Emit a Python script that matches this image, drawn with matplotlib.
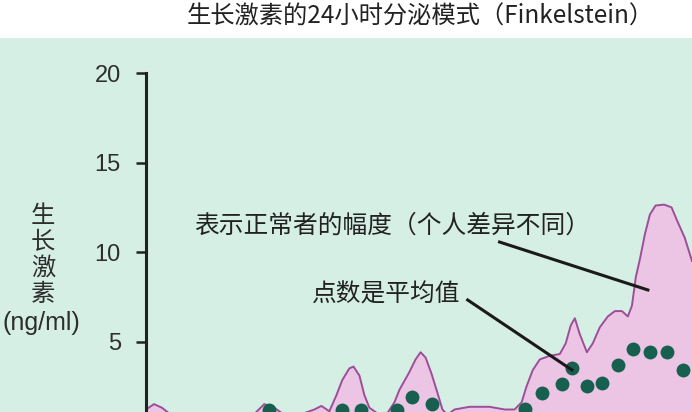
import matplotlib.pyplot as plt
from matplotlib.patches import Rectangle

# normal range envelope (hours from start of the plotted window, ng/ml)
env_hours = [0.00, 0.35, 0.70, 1.10, 2.33, 4.09, 4.80, 5.20, 5.64, 6.08,
             6.74, 7.40, 7.71, 8.06, 8.37, 8.63, 8.94, 9.12, 9.38, 9.60,
             9.82, 10.26, 10.61, 10.92, 11.14, 11.58, 11.85, 12.07, 12.29, 12.55,
             12.77, 13.03, 13.25, 13.56, 14.22, 15.10, 15.77, 16.20, 16.51, 16.73,
             17.00, 17.31, 17.75, 18.19, 18.45, 18.67, 18.85, 19.07, 19.38, 19.64,
             19.95, 20.30, 20.61, 20.92, 21.18, 21.36, 21.53, 21.71, 21.93, 22.15,
             22.40, 22.77, 23.10, 23.33, 23.68, 24.00]
env_ng = [1.2, 1.5, 1.3, 0.9, 0.6, 0.7, 1.0, 1.5, 1.3, 0.9,
          0.9, 1.2, 1.4, 1.1, 2.0, 2.85, 3.5, 3.6, 3.1, 2.0,
          1.3, 0.9, 1.0, 1.6, 2.3, 3.3, 4.0, 4.4, 4.1, 3.2,
          2.3, 1.2, 0.9, 1.2, 1.35, 1.35, 1.2, 1.2, 1.6, 2.5,
          3.4, 4.0, 4.2, 4.3, 4.9, 5.9, 6.3, 5.4, 4.4, 4.9,
          5.8, 6.4, 6.7, 6.7, 6.4, 7.0, 8.6, 9.6, 11.0, 12.1,
          12.6, 12.65, 12.5, 11.8, 10.8, 9.5]

# mean values (dots)
mean_hours = [5.42, 8.63, 9.47, 11.05, 11.71, 12.55, 16.65, 17.39, 18.27,
              18.72, 19.38, 20.04, 20.74, 21.40, 22.15, 22.90, 23.60]
mean_ng = [1.17, 1.17, 1.17, 1.17, 1.9, 1.5, 1.2, 2.1, 2.6,
           3.5, 2.5, 2.7, 3.7, 4.6, 4.4, 4.4, 3.4]

yticks = [5, 10, 15, 20]

title = '生长激素的24小时分泌模式（Finkelstein）'
ylabel = '生\n长\n激\n素'
yunit = '(ng/ml)'
note_range = '表示正常者的幅度（个人差异不同）'
note_mean = '点数是平均值'

cjk = ['Noto Sans CJK SC', 'DejaVu Sans']
mint = '#d5efe5'
pink = '#ecc5e4'
purple = '#9c4f98'
teal = '#17604f'
ink = '#222222'

W, H = 692, 412
fig = plt.figure(figsize=(W / 100, H / 100), dpi=100, facecolor=mint)
fig.patches.append(Rectangle((0, 1 - 38 / H), 1, 38 / H, transform=fig.transFigure,
                             facecolor='white', edgecolor='none', zorder=0))

ax = fig.add_axes([146 / W, 0, 1 - 146 / W, (H - 40) / H])
ax.set_facecolor('none')
ax.set_xlim(0, 24)
ax.set_ylim(1.06, 21.85)

ax.fill_between(env_hours, 0, env_ng, facecolor=pink, edgecolor='none', zorder=1)
ax.plot(env_hours, env_ng, color=purple, lw=1.4, zorder=2)
ax.plot(mean_hours, mean_ng, 'o', color=teal, ms=10, mec='none', zorder=3)

for s in ['top', 'right', 'bottom']:
    ax.spines[s].set_visible(False)
ax.spines['left'].set_bounds(1.06, 20)
ax.spines['left'].set_linewidth(2.2)
ax.spines['left'].set_color(ink)
ax.set_xticks([])
ax.set_yticks(yticks)
ax.set_yticklabels([str(t) for t in yticks], family='Liberation Sans',
                   fontsize=17, color='#2e2e2e')
ax.tick_params(axis='y', length=7, width=1.8, color=ink, pad=11)

# annotations
ax.text(10.80, 11.5, note_range, family=cjk, fontsize=17.8, color=ink,
        ha='center', va='center')
ax.text(10.55, 7.6, note_mean, family=cjk, fontsize=17.8, color=ink,
        ha='center', va='center')
ax.plot([15.54, 22.06], [10.56, 7.88], color='#1a1a1a', lw=2.2, zorder=4)
ax.plot([14.14, 18.72], [7.32, 3.41], color='#1a1a1a', lw=2.2, zorder=4)

fig.text(420 / W, 1 - 17 / H, title, family=cjk, fontsize=17.5, color=ink,
         ha='center', va='center')
fig.text(43 / W, 1 - 255 / H, ylabel, family=cjk, fontsize=17.5, color='#2e2e2e',
         ha='center', va='center', linespacing=1.0)
fig.text(41 / W, 1 - 323 / H, yunit, family='Liberation Sans', fontsize=18,
         color='#2e2e2e', ha='center', va='center')

fig.savefig('out.png', dpi=100, facecolor=mint)
